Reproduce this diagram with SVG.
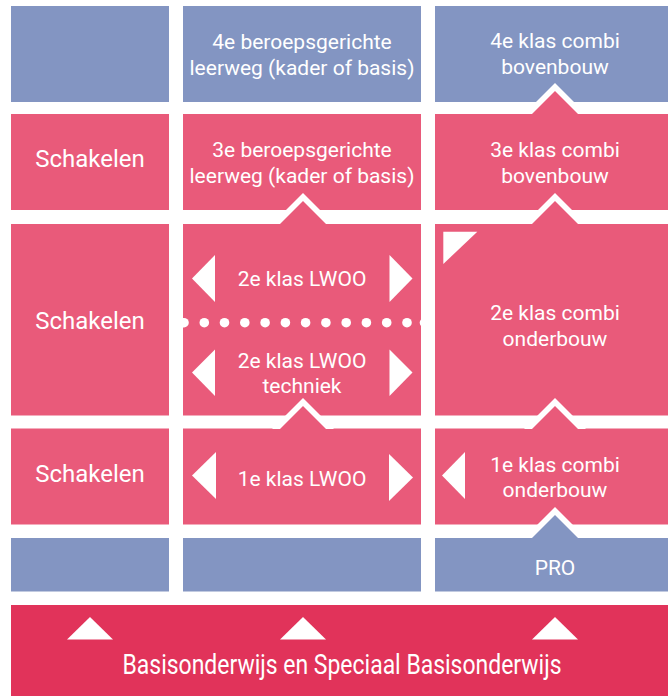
<svg xmlns="http://www.w3.org/2000/svg" width="668" height="696" viewBox="0 0 668 696">
<style>
.blue{fill:#8395c2}
.pink{fill:#e95a7a}
.red{fill:#e1335a}
.w{fill:#ffffff}
.t{font-family:Roboto,"Liberation Sans",sans-serif;font-size:21px;fill:#ffffff;text-anchor:middle}
.s{font-size:24px}
</style>
<defs><clipPath id="c2"><rect x="183" y="224" width="238" height="191.5"/></clipPath></defs>
<rect width="668" height="696" fill="#ffffff"/>
<g id="r1c1"><rect class="blue" x="11" y="6" width="158" height="96"/></g>
<g id="r1c2"><rect class="blue" x="183" y="6" width="238" height="96"/>
<text class="t" x="302" y="49">4e beroepsgerichte</text><text class="t" x="302" y="75">leerweg (kader of basis)</text></g>
<g id="r1c3"><rect class="blue" x="435" y="6" width="240" height="96"/>
<text class="t" x="555" y="48">4e klas combi</text><text class="t" x="555" y="74">bovenbouw</text></g>

<g id="r2c1"><rect class="pink" x="11" y="114" width="158" height="96"/>
<text class="t s" x="90" y="167">Schakelen</text></g>
<g id="r2c2"><rect class="pink" x="183" y="114" width="238" height="96"/>
<text class="t" x="302" y="157">3e beroepsgerichte</text><text class="t" x="302" y="183">leerweg (kader of basis)</text></g>
<g id="r2c3"><rect class="pink" x="435" y="114" width="240" height="96"/>
<text class="t" x="555" y="157">3e klas combi</text><text class="t" x="555" y="183">bovenbouw</text></g>

<g id="r3c1"><rect class="pink" x="11" y="224" width="158" height="191.5"/>
<text class="t s" x="90" y="329">Schakelen</text></g>
<g id="r3c2"><rect class="pink" x="183" y="224" width="238" height="191.5"/>
<polygon class="w" points="192,278.5 215,255 215,302"/>
<polygon class="w" points="412.5,278.5 389.5,255 389.5,302"/>
<text class="t" x="302" y="286">2e klas LWOO</text>
<g clip-path="url(#c2)" class="w">
<circle cx="184" cy="322.7" r="4.8"/><circle cx="204.3" cy="322.7" r="4.8"/><circle cx="224.5" cy="322.7" r="4.8"/><circle cx="244.8" cy="322.7" r="4.8"/><circle cx="265.1" cy="322.7" r="4.8"/><circle cx="285.4" cy="322.7" r="4.8"/><circle cx="305.6" cy="322.7" r="4.8"/><circle cx="325.9" cy="322.7" r="4.8"/><circle cx="346.2" cy="322.7" r="4.8"/><circle cx="366.4" cy="322.7" r="4.8"/><circle cx="386.7" cy="322.7" r="4.8"/><circle cx="407" cy="322.7" r="4.8"/><circle cx="424.5" cy="322.7" r="4.8"/>
</g>
<polygon class="w" points="192,372.5 215,349.5 215,396"/>
<polygon class="w" points="412.5,372.5 389.5,349.5 389.5,396"/>
<text class="t" x="302" y="368">2e klas LWOO</text><text class="t" x="302" y="393">techniek</text></g>
<g id="r3c3"><rect class="pink" x="435" y="224" width="240" height="191.5"/>
<polygon class="w" points="443.3,231.7 477.3,231.7 443.3,264"/>
<text class="t" x="555" y="320">2e klas combi</text><text class="t" x="555" y="346">onderbouw</text></g>

<g id="r4c1"><rect class="pink" x="11" y="428.5" width="158" height="96"/>
<text class="t s" x="90" y="482">Schakelen</text></g>
<g id="r4c2"><rect class="pink" x="183" y="428.5" width="238" height="96"/>
<polygon class="w" points="192,475.5 216,452 216,499"/>
<polygon class="w" points="413,477.5 389,454 389,501"/>
<text class="t" x="302" y="486">1e klas LWOO</text></g>
<g id="r4c3"><rect class="pink" x="435" y="428.5" width="240" height="96"/>
<polygon class="w" points="442,475.5 465,452 465,499"/>
<text class="t" x="555" y="472">1e klas combi</text><text class="t" x="555" y="497">onderbouw</text></g>

<g id="r5c1"><rect class="blue" x="11" y="538" width="158" height="53.5"/></g>
<g id="r5c2"><rect class="blue" x="183" y="538" width="238" height="53.5"/></g>
<g id="r5c3"><rect class="blue" x="435" y="538" width="240" height="53.5"/>
<text class="t" x="555" y="575">PRO</text></g>

<g id="basis"><rect class="red" x="11" y="605" width="670" height="100"/>
<polygon class="w" points="90,617 67,639.5 113,639.5"/>
<polygon class="w" points="303,617 280,639.5 326,639.5"/>
<polygon class="w" points="555,617 532,639.5 578,639.5"/>
<text class="t" x="342" y="674" style="font-size:27px" textLength="439" lengthAdjust="spacingAndGlyphs">Basisonderwijs en Speciaal Basisonderwijs</text></g>

<g id="connectors">
<polygon class="w" points="303,193 272,224 334,224"/>
<polygon class="pink" points="303,201 280,224 326,224"/>
<polygon class="w" points="555,83 524,114 586,114"/>
<polygon class="pink" points="555,91 532,114 578,114"/>
<polygon class="w" points="555,193 524,224 586,224"/>
<polygon class="pink" points="555,201 532,224 578,224"/>
<polygon class="w" points="303,398 272,429 334,429"/>
<polygon class="pink" points="303,406 280,429 326,429"/>
<polygon class="w" points="555,398 524,429 586,429"/>
<polygon class="pink" points="555,406 532,429 578,429"/>
<polygon class="w" points="555,507 524,538 586,538"/>
<polygon class="blue" points="555,515 532,538 578,538"/>
</g>
</svg>
